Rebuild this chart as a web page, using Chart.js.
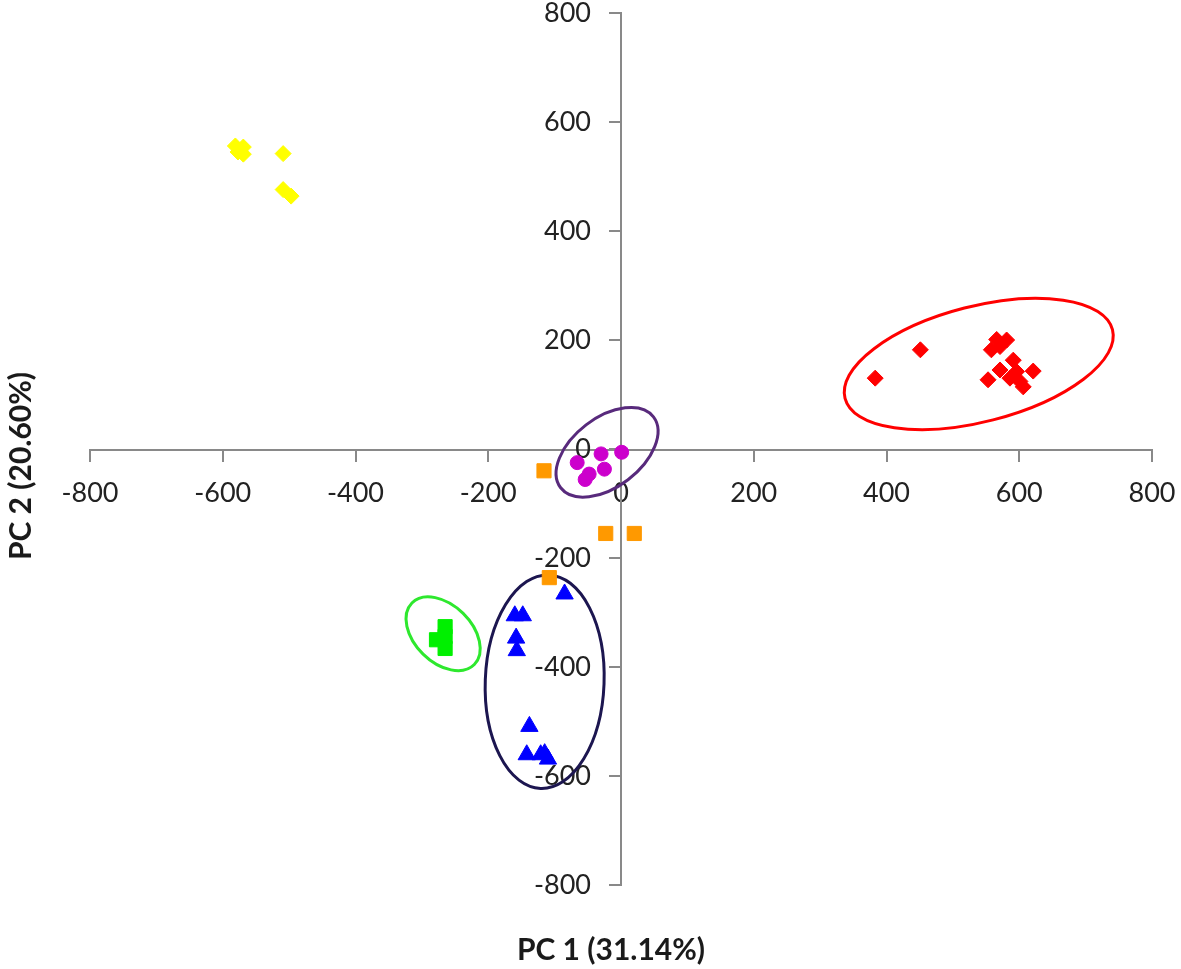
<!DOCTYPE html>
<html>
<head>
<meta charset="utf-8">
<script src="https://cdn.jsdelivr.net/npm/chart.js@4.4.1/dist/chart.umd.min.js"></script>
<style>
  html, body { margin: 0; padding: 0; background: #fff; }
</style>
</head>
<body>
<canvas id="pcaChart" width="1181" height="969"></canvas>
<script>
// PC scores per group
const yellowX = [-581, -569, -577, -569, -509, -509, -497];
const yellowY = [556, 554, 545, 541, 542, 476, 464];

const redX = [383, 451, 566, 581, 558, 571, 553, 571, 591, 596, 586, 606, 621, 601];
const redY = [130, 182, 201, 200, 182, 188, 127, 145, 163, 142, 130, 114, 143, 124];

const magentaX = [-66, -30, 1, -25, -54, -48];
const magentaY = [-25, -9, -6, -37, -56, -46];

const orangeX = [-116, -23, 20, -108];
const orangeY = [-40, -155, -155, -236];

const blueX = [-85, -160, -148, -158, -157, -138, -142, -121, -115, -110];
const blueY = [-266, -306, -306, -347, -370, -509, -561, -561, -559, -569];

const greenX = [-265, -278, -265, -265];
const greenY = [-326, -350, -366, -344];

const axisTicks = [-800, -600, -400, -200, 0, 200, 400, 600, 800];
const xTitle = 'PC 1 (31.14%)';
const yTitle = 'PC 2 (20.60%)';

// group ellipses: centre in data units, semi axes in x-axis units, tilt in degrees
const rings = [
    { cx: 539, cy: 156, a: 208, b: 87, tilt: 14.4, color: '#ff0000' },
    { cx: -21, cy: -6, a: 88, b: 52, tilt: 37.4, color: '#582a7c' },
    { cx: -115, cy: -427, a: 89.5, b: 161, tilt: -2.2, color: '#1c1650' },
    { cx: -268, cy: -339, a: 66, b: 43, tilt: -44.6, color: '#2ee82e' }
];

function pairs(xs, ys) {
    return xs.map((v, i) => ({ x: v, y: ys[i] }));
}

const ringPlugin = {
    id: 'rings',
    beforeDatasetsDraw(chart) {
        const { ctx, scales: { x, y } } = chart;
        const unit = Math.abs(x.getPixelForValue(1) - x.getPixelForValue(0));
        rings.forEach(r => {
            ctx.save();
            ctx.beginPath();
            ctx.ellipse(x.getPixelForValue(r.cx), y.getPixelForValue(r.cy),
                r.a * unit, r.b * unit, -r.tilt * Math.PI / 180, 0, 2 * Math.PI);
            ctx.strokeStyle = r.color;
            ctx.lineWidth = 3;
            ctx.stroke();
            ctx.restore();
        });
    }
};

// axis titles sit at the edges, not next to the centred axes
const titlePlugin = {
    id: 'edgeTitles',
    afterDraw(chart) {
        const { ctx, chartArea } = chart;
        ctx.save();
        ctx.fillStyle = '#1a1a1a';
        ctx.font = 'bold 30px Lato';
        ctx.textAlign = 'center';
        ctx.textBaseline = 'middle';
        ctx.fillText(xTitle, (chartArea.left + chartArea.right) / 2 - 10, 950);
        ctx.translate(21, (chartArea.top + chartArea.bottom) / 2 + 17);
        ctx.rotate(-Math.PI / 2);
        ctx.fillText(yTitle, 0, 0);
        ctx.restore();
    }
};

function makeSet(label, xs, ys, color, style, radius) {
    return {
        label: label,
        data: pairs(xs, ys),
        backgroundColor: color,
        borderColor: color,
        borderWidth: 1,
        pointStyle: style,
        pointRadius: radius,
        pointHoverRadius: radius
    };
}

const axisGrid = {
    drawOnChartArea: false,
    drawTicks: true,
    tickLength: 11,
    color: '#898989',
    lineWidth: 2
};

// both ranges are symmetric, so 'center' puts the axes through 0
new Chart(document.getElementById('pcaChart').getContext('2d'), {
    type: 'scatter',
    data: {
        datasets: [
            makeSet('yellow', yellowX, yellowY, '#ffff00', 'rectRot', 8),
            makeSet('red', redX, redY, '#ff0000', 'rectRot', 8),
            makeSet('magenta', magentaX, magentaY, '#cc00cc', 'circle', 7),
            makeSet('orange', orangeX, orangeY, '#ff9900', 'rect', 10),
            makeSet('blue', blueX, blueY, '#0000ff', 'triangle', 10),
            makeSet('green', greenX, greenY, '#00f000', 'rect', 10)
        ]
    },
    options: {
        responsive: false,
        animation: false,
        layout: { padding: { left: 90, right: 29, top: 13, bottom: 84 } },
        plugins: {
            legend: { display: false },
            tooltip: { enabled: false }
        },
        scales: {
            x: {
                type: 'linear',
                min: -800,
                max: 800,
                position: 'center',
                afterBuildTicks: s => { s.ticks = axisTicks.map(v => ({ value: v })); },
                ticks: { color: '#222', font: { family: 'Lato', size: 27 }, padding: 17, maxRotation: 0 },
                grid: axisGrid,
                border: { display: true, color: '#898989', width: 2 },
                afterFit: s => { s.height = 0; s.paddingLeft = 0; s.paddingRight = 0; }
            },
            y: {
                type: 'linear',
                min: -800,
                max: 800,
                position: 'center',
                afterBuildTicks: s => { s.ticks = axisTicks.map(v => ({ value: v })); },
                ticks: { color: '#222', font: { family: 'Lato', size: 27 }, padding: 19 },
                grid: axisGrid,
                border: { display: true, color: '#898989', width: 2 },
                afterFit: s => { s.width = 0; s.paddingTop = 0; s.paddingBottom = 0; }
            }
        }
    },
    plugins: [ringPlugin, titlePlugin]
});
</script>
</body>
</html>
